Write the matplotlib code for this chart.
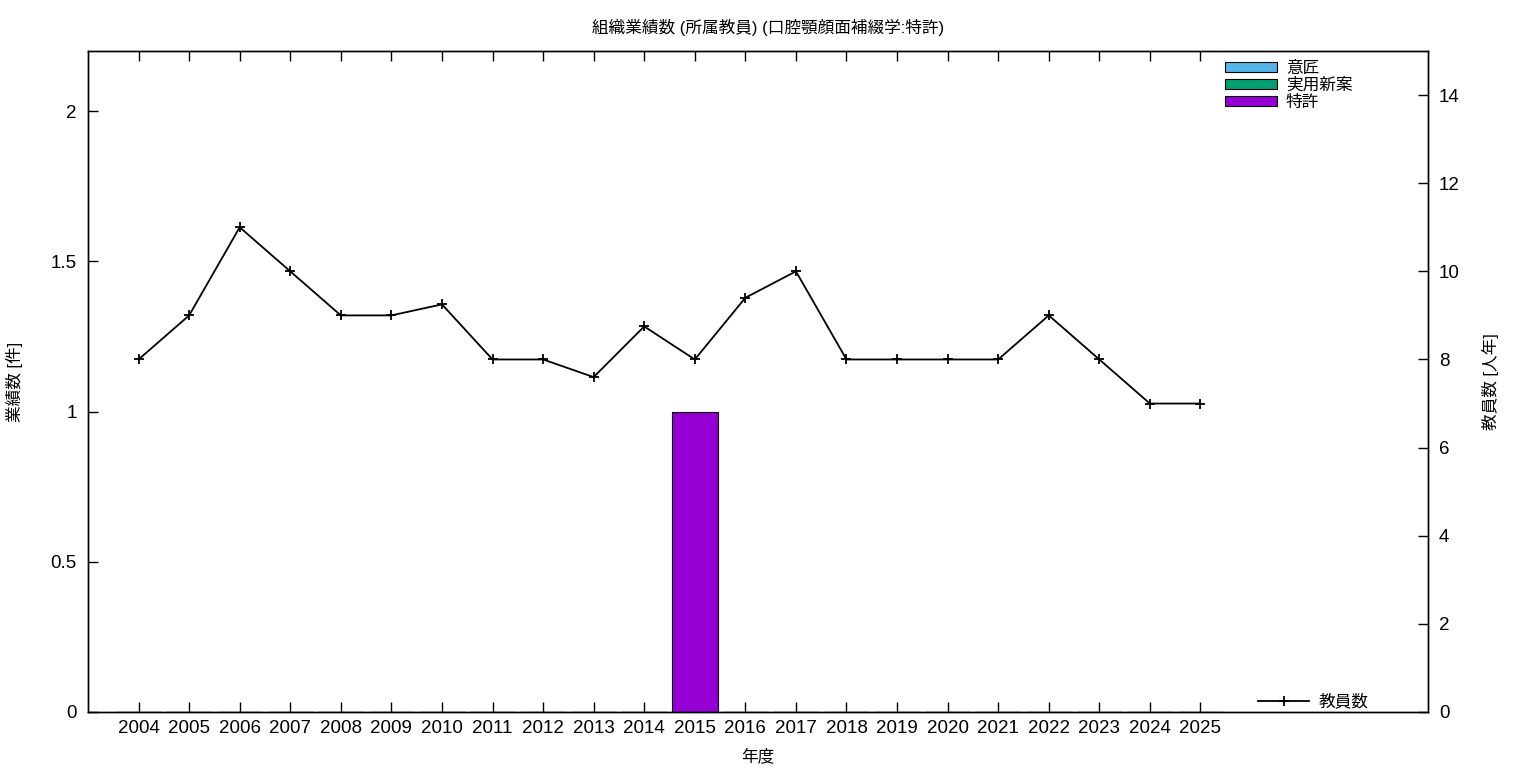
import matplotlib
matplotlib.use('Agg')
import matplotlib.pyplot as plt
import numpy as np

plt.rcParams['font.family'] = ['Liberation Sans', 'Noto Sans CJK JP', 'DejaVu Sans']

# データ
years = ['2004', '2005', '2006', '2007', '2008', '2009', '2010', '2011', '2012', '2013', '2014',
         '2015', '2016', '2017', '2018', '2019', '2020', '2021', '2022', '2023', '2024', '2025']
ishou = [0] * 22          # 意匠
jitsuyou = [0] * 22       # 実用新案
tokkyo = [0, 0, 0, 0, 0, 0, 0, 0, 0, 0, 0, 1, 0, 0, 0, 0, 0, 0, 0, 0, 0, 0]  # 特許
staff = [8, 9, 11, 10, 9, 9, 9.25, 8, 8, 7.6, 8.75, 8, 9.4, 10, 8, 8, 8, 8, 9, 8, 7, 7]  # 教員数

series_labels = ['意匠', '実用新案', '特許']
colors = ['#56b4e9', '#009e73', '#9400d3']

fig = plt.figure(figsize=(15.36, 7.68), dpi=100)
ax = fig.add_axes([88 / 1536, 56 / 768, 1340 / 1536, 661 / 768])
ax2 = ax.twinx()

x = np.arange(len(years))
bottom = np.zeros(len(years))
for vals, lab, c in zip([ishou, jitsuyou, tokkyo], series_labels, colors):
    ax.bar(x, vals, width=0.9, bottom=bottom, color=c, edgecolor='black', linewidth=0.8, label=lab, zorder=2)
    bottom += np.array(vals)

ax2.plot(x, staff, color='black', linewidth=1.3, marker='+', markersize=7, markeredgewidth=1.3, label='教員数')

ax.set_xlim(-1, 25.5)
ax.set_ylim(0, 2.2)
ax2.set_ylim(0, 15)

ax.set_xticks(x)
ax.set_xticklabels(years)
ax.set_yticks([0, 0.5, 1, 1.5, 2])
ax.set_yticklabels(['0', '0.5', '1', '1.5', '2'])
ax2.set_yticks(np.arange(0, 15, 2))

ax.tick_params(axis='x', direction='in', length=7, width=1, top=True, labelsize=13.5, pad=6)
ax.tick_params(axis='y', direction='in', length=7, width=1, right=False, labelsize=13.5, pad=8)
ax2.tick_params(axis='y', direction='in', length=7, width=1, labelsize=13.5, pad=8)
for a in (ax, ax2):
    for s in a.spines.values():
        s.set_linewidth(1)

ax.set_xlabel('年度', fontsize=12, labelpad=8)
ax.set_ylabel('業績数 [件]', fontsize=12, labelpad=20)
ax2.set_ylabel('教員数 [人年]', fontsize=12, labelpad=16)
fig.suptitle('組織業績数 (所属教員) (口腔顎顔面補綴学:特許)', fontsize=12, y=0.975)

ax.legend(loc='upper left', bbox_to_anchor=(0.8485, 0.985), frameon=False, fontsize=12,
          handlelength=3.1, handleheight=0.55, handletextpad=0.55, labelspacing=0.1,
          borderpad=0, borderaxespad=0)
ax2.legend(loc='lower left', bbox_to_anchor=(0.873, 0.004), frameon=False, fontsize=12,
           handlelength=3.1, handletextpad=0.55, borderpad=0, borderaxespad=0)

fig.savefig('out.png', dpi=100)
